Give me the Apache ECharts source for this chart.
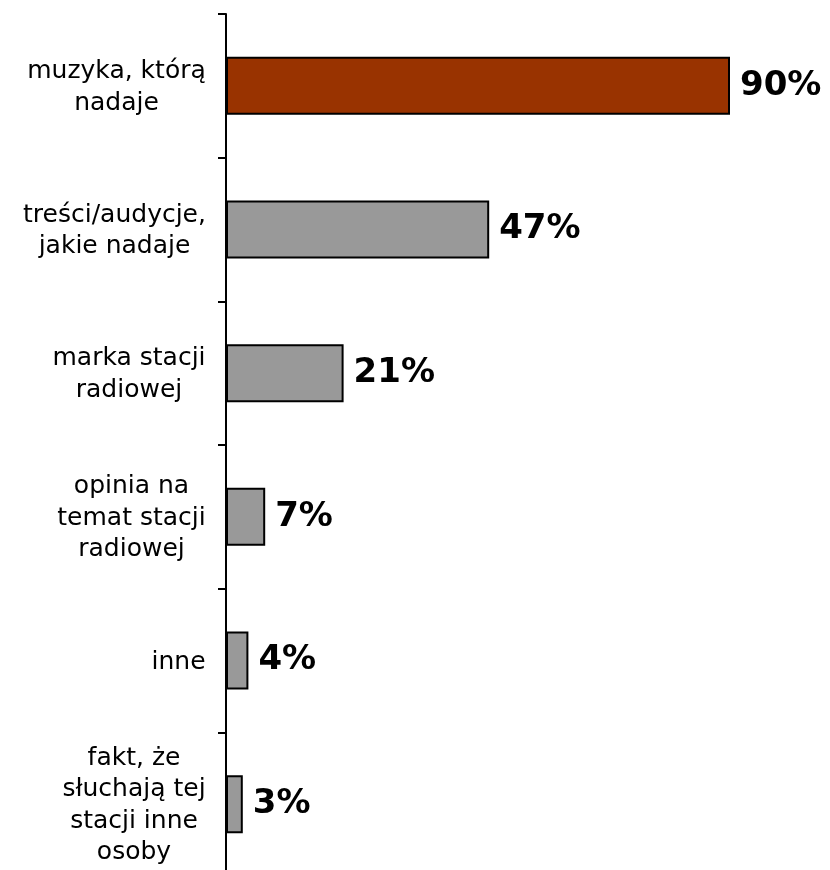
<!DOCTYPE html>
<html>
<head>
<meta charset="utf-8">
<script src="https://cdn.jsdelivr.net/npm/echarts@6/dist/echarts.min.js"></script>
<style>
  html, body { margin: 0; padding: 0; background: #ffffff; }
  #chart { width: 830px; height: 870px; }
</style>
</head>
<body>
<div id="chart"></div>
<script>
// Categories (line breaks as displayed next to the axis)
const categories = [
  'muzyka, którą\nnadaje',
  'treści/audycje,\njakie nadaje',
  'marka stacji\nradiowej',
  'opinia na\ntemat stacji\nradiowej',
  'inne',
  'fakt, że\nsłuchają tej\nstacji inne\nosoby'
];
// Share of answers, percent
const values = [90, 47, 21, 7, 4, 3];
// Highlighted (first) answer vs. the rest
const barColors = ['#993300', '#999999', '#999999', '#999999', '#999999', '#999999'];

const labelFont = '"DejaVu Sans", Verdana, sans-serif';
const labelSize = 25;

// Each label block is right-aligned at the axis, with its lines centred
// inside the block: measure the widest line and build a rich style for it.
const measureCtx = document.createElement('canvas').getContext('2d');
measureCtx.font = labelSize + 'px ' + labelFont;
const rich = {};
categories.forEach((c, i) => {
  const w = Math.ceil(Math.max(...c.split('\n').map(l => measureCtx.measureText(l).width)));
  rich['c' + i] = {
    width: w,
    align: 'center',
    fontFamily: labelFont,
    fontSize: labelSize,
    lineHeight: 31.5,
    color: '#000000'
  };
});

const chart = echarts.init(document.getElementById('chart'), null, { renderer: 'canvas' });
chart.setOption({
  animation: false,
  backgroundColor: '#ffffff',
  // the plot runs a little past the bottom edge, so its last tick is cut off
  grid: {
    left: 226, width: 560, top: 14, height: 862,
    containLabel: false,
    outerBoundsMode: 'none'
  },
  xAxis: {
    type: 'value',
    min: 0,
    max: 100,
    show: false
  },
  yAxis: {
    type: 'category',
    data: categories,
    inverse: true,
    axisLine: { show: true, lineStyle: { color: '#000000', width: 2 } },
    axisTick: { show: true, length: 8, lineStyle: { color: '#000000', width: 2 } },
    axisLabel: {
      margin: 20,
      padding: [3, 0, 0, 0],
      fontFamily: labelFont,
      fontSize: labelSize,
      formatter: (value) => {
        const i = categories.indexOf(value);
        return value.split('\n').map(l => '{c' + i + '|' + l + '}').join('\n');
      },
      rich: rich
    },
    splitLine: { show: false }
  },
  series: [{
    type: 'bar',
    data: values.map((v, i) => ({
      value: v,
      itemStyle: { color: barColors[i] }
    })),
    barWidth: 58,
    itemStyle: { borderColor: '#000000', borderWidth: 2 },
    label: {
      show: true,
      position: 'right',
      distance: 10,
      formatter: p => p.value + '%',
      fontFamily: labelFont,
      fontWeight: 'bold',
      fontSize: 34,
      color: '#000000'
    }
  }]
});
</script>
</body>
</html>
